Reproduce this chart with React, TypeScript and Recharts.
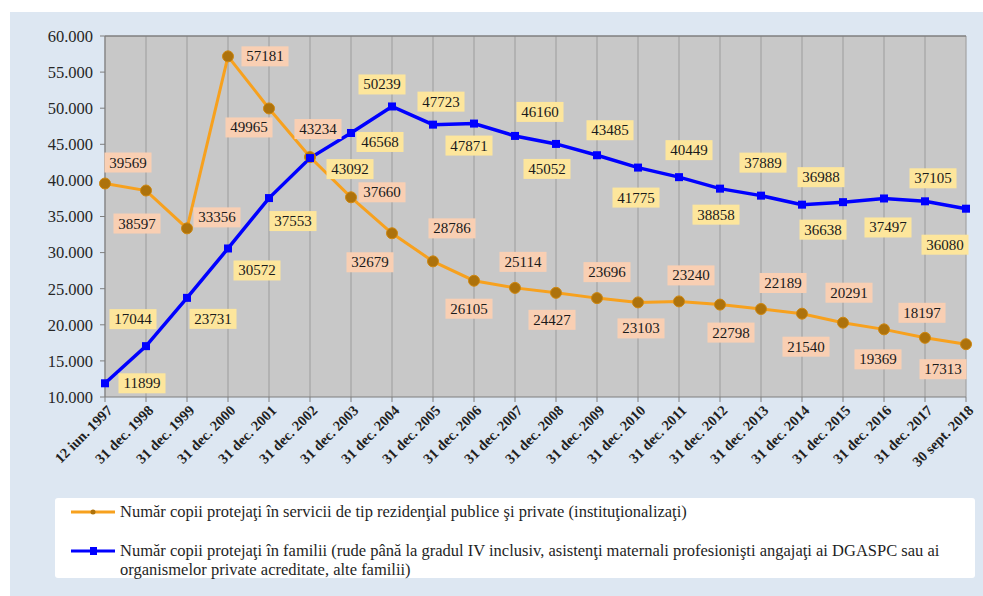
import { LineChart, Line, XAxis, YAxis, CartesianGrid, ReferenceLine, LabelList } from 'recharts'

const DATES = [
  '12 iun. 1997', '31 dec. 1998', '31 dec. 1999', '31 dec. 2000', '31 dec. 2001',
  '31 dec. 2002', '31 dec. 2003', '31 dec. 2004', '31 dec. 2005', '31 dec. 2006',
  '31 dec. 2007', '31 dec. 2008', '31 dec. 2009', '31 dec. 2010', '31 dec. 2011',
  '31 dec. 2012', '31 dec. 2013', '31 dec. 2014', '31 dec. 2015', '31 dec. 2016',
  '31 dec. 2017', '30 sept. 2018',
]

// copii în servicii rezidenţiale (instituţionalizaţi)
const INSTITUTIONALIZED = [
  39569, 38597, 33356, 57181, 49965, 43234, 37660, 32679, 28786, 26105, 25114,
  24427, 23696, 23103, 23240, 22798, 22189, 21540, 20291, 19369, 18197, 17313,
]

// copii în familii
const FAMILIES = [
  11899, 17044, 23731, 30572, 37553, 43092, 46568, 50239, 47723, 47871, 46160,
  45052, 43485, 41775, 40449, 38858, 37889, 36638, 36988, 37497, 37105, 36080,
]

const Y_TICKS = [10000, 15000, 20000, 25000, 30000, 35000, 40000, 45000, 50000, 55000, 60000]

const INST_LABEL = 'Număr copii protejaţi în servicii de tip rezidenţial publice şi private (instituţionalizaţi)'
const FAM_LABEL_1 = 'Număr copii protejaţi în familii (rude până la gradul IV inclusiv, asistenţi maternali profesionişti angajaţi ai DGASPC sau ai'
const FAM_LABEL_2 = 'organismelor private acreditate, alte familii)'

// where each data label box sits relative to its point (dx, dy), as in the original
const INST_OFFSETS = [
  [23, -21], [-9, 33], [30, -11], [37, 0], [-20, 19], [8, -28], [31, -5], [-22, 29],
  [19, -33], [-5, 28], [8, -26], [-4, 27], [10, -26], [3, 26], [12, -26], [11, 28],
  [22, -26], [4, 33], [6, -30], [-6, 30], [-3, -25], [-23, 25],
]
const FAM_OFFSETS = [
  [37, 0], [-13, -27], [26, 21], [29, 22], [24, 23], [40, 11], [29, 9], [-10, -22],
  [8, -23], [-5, 22], [25, -24], [-9, 25], [13, -25], [-2, 30], [10, -27], [-4, 26],
  [2, -33], [21, 25], [-22, -25], [4, 29], [8, -23], [-21, 36],
]

const ORANGE = '#f7a11e'
const BLUE = '#0000ff'
const SERIF = '"Liberation Serif", "Times New Roman", serif'

const data = DATES.map((d, i) => ({ date: d, inst: INSTITUTIONALIZED[i], fam: FAMILIES[i] }))

const fmtThousands = (v: number) => String(v).replace(/\B(?=(\d{3})+(?!\d))/g, '.')

function makeBoxLabel(offsets: number[][], fill: string) {
  return (props: any) => {
    const { x, y, value, index } = props
    const [dx, dy] = offsets[index] || [0, -20]
    const w = 47
    const h = 20
    const cx = x + dx
    const cy = y + dy
    return (
      <g>
        <rect x={cx - w / 2} y={cy - h / 2} width={w} height={h} fill={fill} />
        <text x={cx} y={cy + 5} textAnchor="middle" fontSize={15} fontFamily={SERIF} fill="#1a1a1a">
          {value}
        </text>
      </g>
    )
  }
}

function OrangeDot({ cx, cy }: any) {
  return <circle cx={cx} cy={cy} r={5.5} fill="#ad720c" stroke="#cf870f" strokeWidth={1} />
}

function BlueDot({ cx, cy }: any) {
  return <rect x={cx - 4} y={cy - 4} width={8} height={8} fill={BLUE} />
}

function DateTick({ x, y, payload }: any) {
  return (
    <g transform={`translate(${x + 2},${y + 1})`}>
      <text
        textAnchor="end"
        transform="rotate(-45)"
        fontSize={14.5}
        fontWeight="bold"
        fontFamily={SERIF}
        fill="#1f1f1f"
        dy={9}
      >
        {payload.value}
      </text>
    </g>
  )
}

function LegendBox() {
  const text = {
    position: 'absolute' as const,
    left: 65,
    fontSize: 16.5,
    fontFamily: SERIF,
    color: '#1f1f1f',
    whiteSpace: 'nowrap' as const,
    lineHeight: '19px',
  }
  return (
    <div style={{ position: 'absolute', left: 55, top: 498, width: 920, height: 80, background: '#fff', borderRadius: 3 }}>
      <svg style={{ position: 'absolute', left: 16, top: 8 }} width={46} height={12}>
        <line x1={0} y1={6} x2={44} y2={6} stroke={ORANGE} strokeWidth={3} />
        <circle cx={22} cy={6} r={2.5} fill="#ad720c" />
      </svg>
      <div style={{ ...text, top: 4 }}>{INST_LABEL}</div>
      <svg style={{ position: 'absolute', left: 16, top: 47 }} width={46} height={12}>
        <line x1={0} y1={6} x2={44} y2={6} stroke={BLUE} strokeWidth={3} />
        <rect x={19} y={2} width={7} height={8} fill={BLUE} />
      </svg>
      <div style={{ ...text, top: 43 }}>{FAM_LABEL_1}</div>
      <div style={{ ...text, top: 62 }}>{FAM_LABEL_2}</div>
    </div>
  )
}

export default function App() {
  return (
    <div style={{ position: 'absolute', left: 0, top: 0, width: 983, height: 596, background: '#fff', overflow: 'hidden' }}>
      <div style={{ position: 'absolute', left: 10, top: 12, width: 973, height: 584, background: '#dde7f2' }} />
      <div style={{ position: 'absolute', left: 0, top: 0 }}>
        <LineChart width={983} height={596} data={data} margin={{ top: 36, right: 17, bottom: 119, left: 0 }}>
          <CartesianGrid vertical horizontal={false} fill="#c8c8c8" stroke="#a3a3a3" strokeWidth={1.2} />
          <ReferenceLine y={60000} stroke="#7f7f7f" strokeWidth={1.5} />
          <XAxis
            dataKey="date"
            interval={0}
            height={80}
            padding={{ left: 0, right: 0 }}
            stroke="#7f7f7f"
            tickSize={5}
            tick={<DateTick />}
          />
          <YAxis
            width={105}
            domain={[10000, 60000]}
            ticks={Y_TICKS}
            tickFormatter={fmtThousands}
            stroke="#7f7f7f"
            tickSize={5}
            tickMargin={7}
            tick={{ fontSize: 16.5, fontFamily: SERIF, fill: '#262626' }}
          />
          <Line
            dataKey="inst"
            stroke={ORANGE}
            strokeWidth={3}
            dot={<OrangeDot />}
            activeDot={false}
            isAnimationActive={false}
          />
          <Line
            dataKey="fam"
            stroke={BLUE}
            strokeWidth={3.5}
            dot={<BlueDot />}
            activeDot={false}
            isAnimationActive={false}
          />
          <Line dataKey="inst" stroke="none" dot={false} activeDot={false} isAnimationActive={false}>
            <LabelList dataKey="inst" content={makeBoxLabel(INST_OFFSETS, '#f9cfb3')} />
          </Line>
          <Line dataKey="fam" stroke="none" dot={false} activeDot={false} isAnimationActive={false}>
            <LabelList dataKey="fam" content={makeBoxLabel(FAM_OFFSETS, '#fde69c')} />
          </Line>
        </LineChart>
      </div>
      <LegendBox />
    </div>
  )
}
